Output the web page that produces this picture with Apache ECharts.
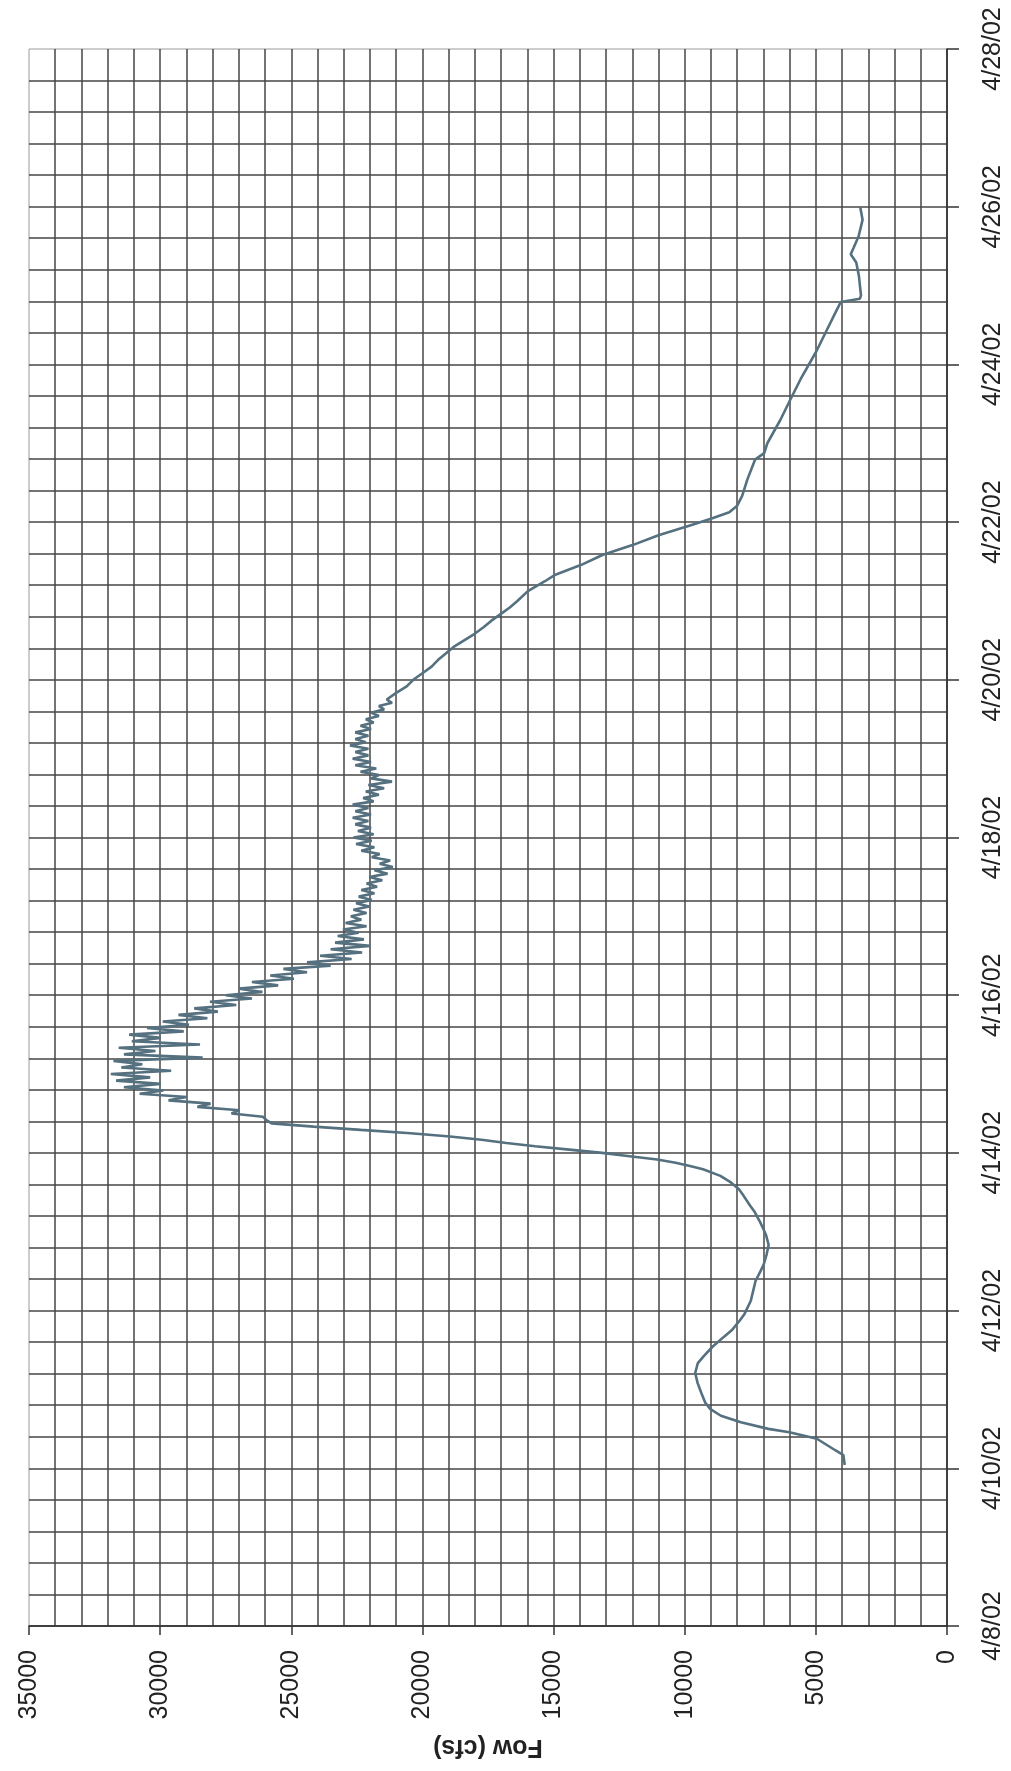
<!DOCTYPE html>
<html>
<head>
<meta charset="utf-8">
<script src="https://cdn.jsdelivr.net/npm/echarts@6/dist/echarts.min.js"></script>
<style>
  html, body { margin: 0; padding: 0; background: #fff; }
  #chart { width: 1011px; height: 1771px; }
</style>
</head>
<body>
<div id="chart"></div>
<script>
// hours since 4/8/02 00:00
const hours = [
  49, 52, 53.5, 57, 59, 60, 62, 64, 66, 68, 71, 74, 77, 80, 82, 85, 88, 90, 93, 95,
  99, 102, 105, 108, 110, 113, 116, 119, 121, 123, 126, 128, 131, 133, 135, 137, 139, 140, 141, 142,
  143, 144, 145, 146, 147, 148, 149, 150, 151, 152, 153, 154,
  155, 156, 157, 158, 159, 160, 161, 162, 163, 164, 165, 166, 167, 168, 169, 170, 171, 172, 173, 174,
  175, 176, 177, 178, 179, 180, 181, 182, 183, 184, 185, 186, 187, 188, 189, 190, 191, 192, 193, 194,
  195, 196, 197, 198, 199, 200, 201, 202, 203, 204, 205, 206, 207,
  208, 209, 210, 211, 212, 213, 214, 215, 216, 217, 218, 219, 220, 221, 222, 223, 224, 225, 226, 227,
  228, 229, 230, 231, 232, 233, 234, 235, 236, 237, 238, 239, 240, 241, 242, 243, 244, 245, 246, 247,
  248, 249, 250, 251, 252, 253, 254, 255, 256, 257, 258, 259, 260, 261, 262, 263, 264, 265, 266, 267,
  268, 269, 270, 271, 272, 273, 274, 275, 276, 277, 278, 279, 280, 281, 282,
  284, 286, 288, 290, 292, 294, 296, 298, 300, 302, 304, 306, 308, 310, 312, 315, 318, 320, 323, 326,
  329, 332, 335, 337, 339, 341, 344, 349, 355, 357, 360, 367, 373, 380, 388, 394, 400, 403, 404, 405,
  411, 415, 417.5, 419.5, 423, 428, 432
];

// flow (cfs)
const flow = [
  3900, 3950, 4260, 4960, 6010, 6810, 7860, 8620, 9020, 9220, 9370, 9510, 9600, 9500, 9290, 8940, 8510, 8210, 7900, 7720,
  7480, 7390, 7300, 7110, 6990, 6880, 6800, 6900, 7010, 7130, 7330, 7510, 7760, 7940, 8240, 8640, 9300, 9800, 10350, 11050,
  12100, 13150, 14400, 15700, 16800, 17750, 18950, 20450, 22350, 24150, 25750, 25950,
  26080, 27280, 26980, 28580, 28080, 29680, 28980, 30780, 29880, 31380, 29980, 31680, 30380, 31880, 29580, 31480, 30680, 31780, 28380, 31380,
  30180, 31580, 28480, 31080, 29980, 31180, 29100, 30500, 28900, 29900, 28200, 29300, 27800, 28700, 27100, 28100, 26500, 27500, 26100, 27000,
  25500, 26500, 24900, 25800, 24400, 25300, 23500, 24400, 22700, 23900, 22300, 23500, 22000,
  23330, 22230, 23230, 22430, 23030, 22130, 22930, 22330, 22730, 22130, 22630, 22030, 22530, 21930, 22430, 21830, 22330, 21730, 22130, 21530,
  22030, 21330, 21830, 21130, 21630, 21230, 21930, 21630, 22330, 21830, 22530, 21930, 22630, 21860, 22460, 21960, 22560, 22060, 22660, 21960,
  22560, 22060, 22660, 21860, 22260, 21660, 22160, 21460, 22060, 21160, 21960, 21660, 22360, 21760, 22560, 21960, 22660, 22060, 22560, 22060,
  22760, 22160, 22560, 22060, 22560, 21960, 22360, 21860, 22160, 21660, 21960, 21460, 21660, 21160, 21360,
  21000, 20600, 20350, 20000, 19650, 19410, 19110, 18810, 18410, 18010, 17670, 17370, 17020, 16670, 16380, 15980, 15330, 14930, 13940, 13140,
  11990, 11000, 9800, 9000, 8300, 8000, 7810, 7610, 7320, 6970, 6850, 6360, 5990, 5550, 4980, 4610, 4240, 4050, 3320, 3280,
  3360, 3460, 3670, 3560, 3370, 3220, 3310
];

const dateLabels = ['4/8/02', '4/10/02', '4/12/02', '4/14/02', '4/16/02', '4/18/02',
  '4/20/02', '4/22/02', '4/24/02', '4/26/02', '4/28/02'];

const flowMin = 0;
const flowMax = 35000;
const flowStep = 5000;

const gridLine = { color: '#474747', width: 1.5 };
const labelFont = { fontFamily: 'Liberation Sans, Arial, sans-serif', fontSize: 25, color: '#222' };

let chart = echarts.init(document.getElementById('chart'));

let option = {
    backgroundColor: '#fff',
    animation: false,
    grid: {
        left: 29, right: 64, top: 49, bottom: 145,
        containLabel: false,
        outerBoundsMode: 'none',
        show: true,
        borderColor: '#9a9a9a',
        borderWidth: 1
    },
    // flow runs across the page, 35000 on the left, 0 on the right
    xAxis: {
        type: 'value',
        inverse: true,
        min: flowMin,
        max: flowMax,
        interval: flowStep,
        name: 'Fow (cfs)',
        nameLocation: 'middle',
        nameGap: 108,
        nameRotate: 180,
        nameTextStyle: { fontFamily: 'Liberation Sans, Arial, sans-serif', fontSize: 25, fontWeight: 'bold', color: '#222' },
        axisLine: { show: true, lineStyle: { color: '#333', width: 1.5 } },
        axisTick: { show: true, inside: false, length: 9, lineStyle: { color: '#333', width: 1.5 } },
        axisLabel: Object.assign({ rotate: 90, margin: 24, formatter: v => String(v) }, labelFont),
        minorTick: { show: false, splitNumber: 5 },
        splitLine: { show: true, showMaxLine: false, lineStyle: gridLine },
        minorSplitLine: { show: true, lineStyle: gridLine }
    },
    // dates run up the page on the right
    yAxis: {
        type: 'value',
        position: 'right',
        min: 0,
        max: 20,
        interval: 2,
        axisLine: { show: true, lineStyle: { color: '#333', width: 1.5 } },
        axisTick: { show: true, inside: false, length: 12, lineStyle: { color: '#333', width: 1.5 } },
        axisLabel: Object.assign({
            rotate: 90,
            margin: 34,
            formatter: v => dateLabels[Math.round(v / 2)]
        }, labelFont),
        minorTick: { show: false, splitNumber: 5 },
        splitLine: { show: true, showMaxLine: false, lineStyle: gridLine },
        minorSplitLine: { show: true, lineStyle: gridLine }
    },
    series: [
        {
            type: 'line',
            showSymbol: false,
            smooth: false,
            data: hours.map((h, i) => [flow[i], h / 24]),
            lineStyle: { color: '#55707f', width: 2.6 }
        }
    ]
};

chart.setOption(option);
</script>
</body>
</html>
